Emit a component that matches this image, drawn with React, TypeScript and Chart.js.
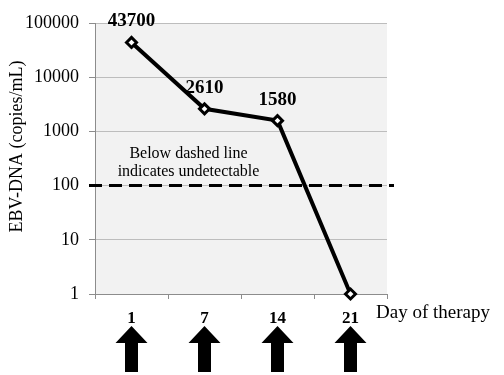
import React, { useEffect, useRef } from "react";
import { Chart, registerables } from "chart.js";

Chart.register(...registerables);

const days = ["1", "7", "14", "21"];
const copies = [43700, 2610, 1580, 1];
const pointLabels = ["43700", "2610", "1580", ""];
const yTicks = [1, 10, 100, 1000, 10000, 100000];
const detectionLimit = 100;
const yTitle = "EBV-DNA (copies/mL)";
const xTitle = "Day of therapy";
const noteLines = ["Below dashed line", "indicates undetectable"];

const SERIF = "'Liberation Serif', 'Times New Roman', serif";

const customPlugin = {
  id: "custom",
  beforeDraw(chart: any) {
    const { ctx, chartArea } = chart;
    ctx.save();
    ctx.fillStyle = "#f2f2f2";
    ctx.fillRect(chartArea.left, chartArea.top, chartArea.right - chartArea.left, chartArea.bottom - chartArea.top);
    ctx.restore();
  },
  beforeDatasetsDraw(chart: any) {
    const { ctx, chartArea, scales } = chart;
    const y = scales.y.getPixelForValue(detectionLimit);
    ctx.save();
    ctx.strokeStyle = "#000";
    ctx.lineWidth = 3;
    ctx.setLineDash([13, 7]);
    ctx.beginPath();
    ctx.moveTo(chartArea.left - 6, y);
    ctx.lineTo(chartArea.right + 7, y);
    ctx.stroke();
    ctx.restore();
    ctx.save();
    ctx.fillStyle = "#000";
    ctx.font = `16px ${SERIF}`;
    ctx.textAlign = "center";
    ctx.textBaseline = "middle";
    const cx = scales.x.getPixelForValue(0) + 57;
    ctx.fillText(noteLines[0], cx, y - 32);
    ctx.fillText(noteLines[1], cx, y - 14);
    ctx.restore();
  },
  afterDraw(chart: any) {
    const { ctx, scales, chartArea } = chart;
    const meta = chart.getDatasetMeta(0);
    ctx.save();
    ctx.fillStyle = "#000";
    ctx.font = `bold 19px ${SERIF}`;
    ctx.textAlign = "center";
    ctx.textBaseline = "middle";
    meta.data.forEach((pt: any, i: number) => {
      if (pointLabels[i]) ctx.fillText(pointLabels[i], pt.x, pt.y - 21);
    });
    ctx.font = `19px ${SERIF}`;
    ctx.textAlign = "left";
    ctx.fillText(xTitle, chartArea.right - 11, chartArea.bottom + 19);
    ctx.save();
    ctx.translate(17, (chartArea.top + chartArea.bottom) / 2 - 12);
    ctx.rotate(-Math.PI / 2);
    ctx.font = `18px ${SERIF}`;
    ctx.textAlign = "center";
    ctx.fillText(yTitle, 0, 0);
    ctx.restore();
    days.forEach((_, i) => {
      const x = scales.x.getPixelForValue(i);
      const tip = chartArea.bottom + 32;
      const headBase = tip + 17;
      const bottom = tip + 46;
      ctx.beginPath();
      ctx.moveTo(x, tip);
      ctx.lineTo(x + 16, headBase);
      ctx.lineTo(x + 6.5, headBase);
      ctx.lineTo(x + 6.5, bottom);
      ctx.lineTo(x - 6.5, bottom);
      ctx.lineTo(x - 6.5, headBase);
      ctx.lineTo(x - 16, headBase);
      ctx.closePath();
      ctx.fill();
    });
    ctx.restore();
  },
};

export default function App() {
  const ref = useRef<HTMLCanvasElement | null>(null);
  useEffect(() => {
    document.body.style.margin = "0";
    if (!ref.current) return;
    const chart = new Chart(ref.current, {
      type: "line",
      data: {
        labels: days,
        datasets: [
          {
            data: copies,
            borderColor: "#000",
            borderWidth: 4,
            pointStyle: "rectRot",
            pointRadius: 5,
            pointBorderWidth: 3,
            pointBackgroundColor: "#fff",
            pointBorderColor: "#000",
            tension: 0,
            clip: false,
          },
        ],
      },
      options: {
        responsive: false,
        animation: false,
        layout: { padding: { top: 23, right: 117, left: 0, bottom: 0 } },
        plugins: { legend: { display: false }, tooltip: { enabled: false } },
        scales: {
          x: {
            type: "category",
            offset: true,
            grid: { offset: true, drawOnChartArea: false, drawTicks: true, tickLength: 5, color: "#8c8c8c" },
            border: { color: "#8c8c8c", width: 1 },
            ticks: { color: "#000", padding: 9, font: { family: SERIF, size: 17, weight: "bold" } },
            afterFit: (s: any) => { s.height = 81; },
          },
          y: {
            type: "logarithmic",
            min: 1,
            max: 100000,
            afterBuildTicks: (s: any) => { s.ticks = yTicks.map((v) => ({ value: v })); },
            grid: { color: "#bdbdbd", tickLength: 6, tickColor: "#8c8c8c" },
            border: { color: "#8c8c8c", width: 1 },
            ticks: {
              color: "#000",
              padding: 10,
              font: { family: SERIF, size: 18 },
              callback: (v: any) => String(v),
            },
            afterFit: (s: any) => { s.width = 95; },
          },
        },
      },
      plugins: [customPlugin],
    });
    return () => chart.destroy();
  }, []);
  return (
    <div style={{ width: 504, height: 375 }}>
      <canvas ref={ref} width={504} height={375} style={{ display: "block" }} />
    </div>
  );
}
